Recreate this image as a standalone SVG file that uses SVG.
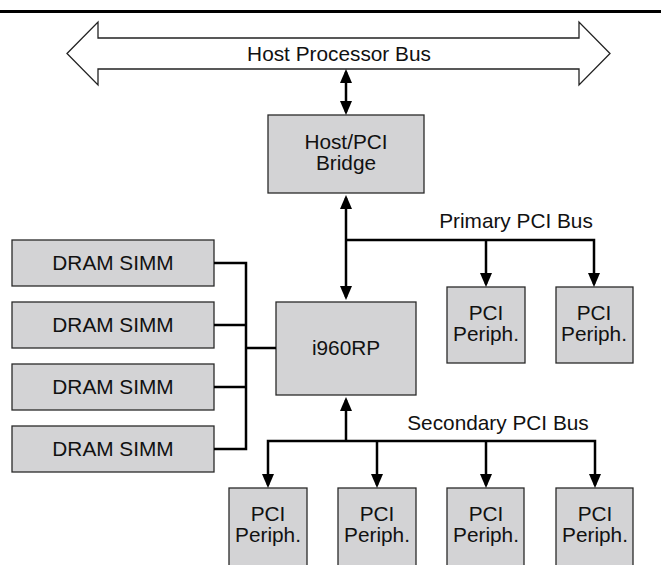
<svg xmlns="http://www.w3.org/2000/svg" width="661" height="565" viewBox="0 0 661 565">
<defs>
<marker id="ah" markerUnits="userSpaceOnUse" markerWidth="14" markerHeight="12" refX="11" refY="6" orient="auto-start-reverse" viewBox="0 0 14 12">
<path d="M0,0 L14,6 L0,12 z" fill="#000"/>
</marker>
</defs>
<style>
.box{fill:#d3d3d5;stroke:#2a2a2a;stroke-width:1.3}
.t{font-family:"Liberation Sans",Arial,Helvetica,sans-serif;font-size:20.8px;fill:#111;text-anchor:middle}
.c{fill:none;stroke:#000;stroke-width:2.5}
</style>
<rect width="661" height="565" fill="#fff"/>
<line x1="0" y1="11.5" x2="661" y2="11.5" stroke="#000" stroke-width="3"/>
<g id="host-bus">
<polygon points="67,53.5 98,22 98,38 579,38 579,22 610,53.5 579,85 579,69 98,69 98,85" fill="#fff" stroke="#222" stroke-width="1.3"/>
<text class="t" x="339" y="61">Host Processor Bus</text>
</g>
<g id="bridge">
<rect class="box" x="268" y="115" width="156" height="78"/>
<text class="t" x="346" y="149">Host/PCI</text>
<text class="t" x="346" y="170">Bridge</text>
</g>
<g id="i960rp">
<rect class="box" x="276" y="302" width="140" height="93"/>
<text class="t" x="346" y="355">i960RP</text>
</g>
<g id="dram1"><rect class="box" x="12" y="240" width="202" height="46"/><text class="t" x="113" y="270">DRAM SIMM</text></g>
<g id="dram2"><rect class="box" x="12" y="302" width="202" height="46"/><text class="t" x="113" y="332">DRAM SIMM</text></g>
<g id="dram3"><rect class="box" x="12" y="364" width="202" height="46"/><text class="t" x="113" y="394">DRAM SIMM</text></g>
<g id="dram4"><rect class="box" x="12" y="426" width="202" height="46"/><text class="t" x="113" y="456">DRAM SIMM</text></g>
<g id="pp1"><rect class="box" x="447" y="287" width="78" height="76"/><text class="t" x="486" y="320">PCI</text><text class="t" x="486" y="341">Periph.</text></g>
<g id="pp2"><rect class="box" x="556" y="287" width="77" height="76"/><text class="t" x="594" y="320">PCI</text><text class="t" x="594" y="341">Periph.</text></g>
<g id="sp1"><rect class="box" x="229" y="488" width="78" height="80"/><text class="t" x="268" y="521">PCI</text><text class="t" x="268" y="542">Periph.</text></g>
<g id="sp2"><rect class="box" x="338" y="488" width="78" height="80"/><text class="t" x="377" y="521">PCI</text><text class="t" x="377" y="542">Periph.</text></g>
<g id="sp3"><rect class="box" x="447" y="488" width="77" height="80"/><text class="t" x="486" y="521">PCI</text><text class="t" x="486" y="542">Periph.</text></g>
<g id="sp4"><rect class="box" x="556" y="488" width="77" height="80"/><text class="t" x="595" y="521">PCI</text><text class="t" x="595" y="542">Periph.</text></g>
<g id="labels">
<text class="t" x="516" y="228">Primary PCI Bus</text>
<text class="t" x="498" y="430">Secondary PCI Bus</text>
</g>
<g id="connectors">
<line class="c" x1="346" y1="72" x2="346" y2="112" marker-start="url(#ah)" marker-end="url(#ah)"/>
<line class="c" x1="346" y1="198" x2="346" y2="297" marker-start="url(#ah)" marker-end="url(#ah)"/>
<polyline class="c" points="346,240 594,240 594,284" marker-end="url(#ah)"/>
<line class="c" x1="486" y1="240" x2="486" y2="284" marker-end="url(#ah)"/>
<line class="c" x1="346" y1="441" x2="346" y2="400" marker-end="url(#ah)"/>
<polyline class="c" points="268,485 268,441 595,441 595,485" marker-start="url(#ah)" marker-end="url(#ah)"/>
<line class="c" x1="377" y1="441" x2="377" y2="485" marker-end="url(#ah)"/>
<line class="c" x1="486" y1="441" x2="486" y2="485" marker-end="url(#ah)"/>
<polyline class="c" points="214,263 246,263 246,449 214,449"/>
<line class="c" x1="214" y1="325" x2="246" y2="325"/>
<line class="c" x1="214" y1="387" x2="246" y2="387"/>
<line class="c" x1="246" y1="348" x2="276" y2="348"/>
</g>
</svg>
